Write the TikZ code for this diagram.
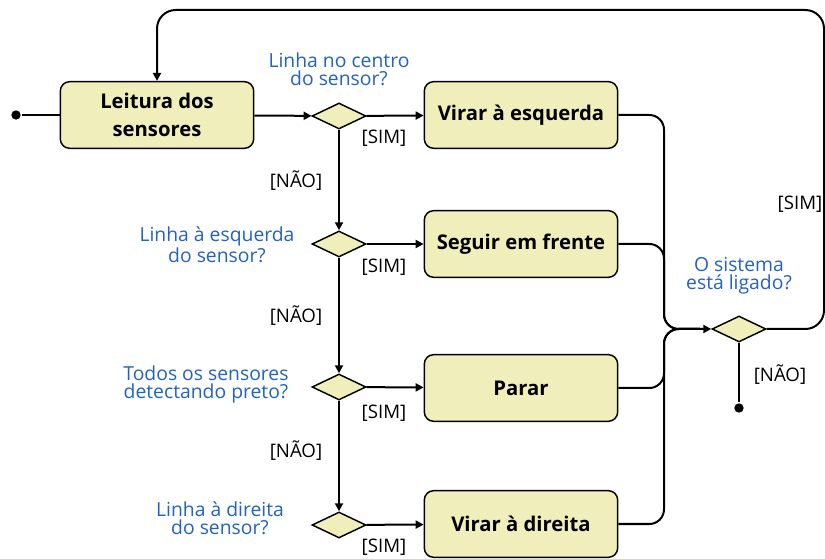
\documentclass[tikz,border=0pt]{standalone}
\usepackage{fontspec}
\setmainfont{Open Sans}
\usepackage{tikz}
\usetikzlibrary{positioning}
\usetikzlibrary{arrows.meta}
\usetikzlibrary{shapes.geometric}
\usepackage{xcolor}

\definecolor{boxfill}{HTML}{F0EFBB}
\definecolor{askblue}{HTML}{2262C0}

\tikzset{
  acao/.style={draw, rounded corners=7pt, fill=boxfill, line width=1.1pt,
    minimum width=145pt, minimum height=50pt, align=center,
    font=\fontsize{15.2}{21}\selectfont\bfseries},
  decisao/.style={draw, diamond, fill=boxfill, line width=1.1pt, inner sep=0pt,
    minimum width=40.5pt, minimum height=19.5pt},
  pergunta/.style={text=askblue, align=center, inner sep=0pt,
    font=\fontsize{14.5}{13.5}\selectfont},
  guarda/.style={inner sep=0pt, font=\fontsize{14}{15}\selectfont},
  ponto/.style={circle, fill, inner sep=0pt, minimum size=7pt},
  fluxo/.style={line width=1.5pt, -{Triangle[length=6pt,width=6pt]}}
}

\begin{document}
\begin{tikzpicture}[x=0.75pt, y=-0.75pt, line width=1.5pt]
  \useasboundingbox (0,0) rectangle (825,559);

  % inicio e leitura
  \node [ponto] (inicio) at (16,115) {};
  \node [acao] (leitura) at (157,115) {Leitura dos\\sensores};

  % decisoes
  \node [decisao] (centro) at (339,116) {};
  \node [decisao] (esquerda) at (339,244) {};
  \node [decisao] (preto) at (339,387) {};
  \node [decisao] (direita) at (339,525) {};
  \node [decisao] (ligado) at (739,329) {};

  % acoes
  \node [acao] (virarEsq) at (521,115) {Virar à esquerda};
  \node [acao] (seguir) at (521,244) {Seguir em frente};
  \node [acao] (parar) at (521,388) {Parar};
  \node [acao] (virarDir) at (521,524) {Virar à direita};

  \node [ponto] (fim) at (739,408) {};

  % perguntas
  \node [pergunta] at (339,69) {Linha no centro\\do sensor?};
  \node [pergunta] at (217,245) {Linha à esquerda\\do sensor?};
  \node [pergunta] at (206,384) {Todos os sensores\\detectando preto?};
  \node [pergunta] at (220,518) {Linha à direita\\do sensor?};
  \node [pergunta] at (739,276) {O sistema\\está ligado?};

  % guardas
  \node [guarda] at (384,138) {[SIM]};
  \node [guarda] at (384,267) {[SIM]};
  \node [guarda] at (384,413) {[SIM]};
  \node [guarda] at (384,547) {[SIM]};
  \node [guarda] at (296,181) {[NÃO]};
  \node [guarda] at (296,316) {[NÃO]};
  \node [guarda] at (296,451) {[NÃO]};
  \node [guarda] at (780,375) {[NÃO]};
  \node [guarda] at (800,204) {[SIM]};

  % ligacoes
  \draw (inicio) -- (leitura);
  \draw [fluxo] (leitura) -- (centro);
  \draw [fluxo] (centro) -- (virarEsq);
  \draw [fluxo] (centro) -- (esquerda);
  \draw [fluxo] (esquerda) -- (seguir);
  \draw [fluxo] (esquerda) -- (preto);
  \draw [fluxo] (preto) -- (parar);
  \draw [fluxo] (preto) -- (direita);
  \draw [fluxo] (direita) -- (virarDir);

  \draw [fluxo, rounded corners=11pt] (virarEsq.east) -- (664,115) -- (664,329) -- (ligado.west);
  \draw [rounded corners=11pt] (seguir.east) -- (664,244) -- (664,329) -- (700,329);
  \draw [rounded corners=11pt] (parar.east) -- (664,388) -- (664,329) -- (700,329);
  \draw [rounded corners=11pt] (virarDir.east) -- (664,524) -- (664,329) -- (700,329);

  \draw (ligado) -- (fim);
  \draw [fluxo, rounded corners=14pt] (ligado.east) -- (824,329) -- (824,10) -- (157,10) -- (leitura.north);
\end{tikzpicture}
\end{document}
